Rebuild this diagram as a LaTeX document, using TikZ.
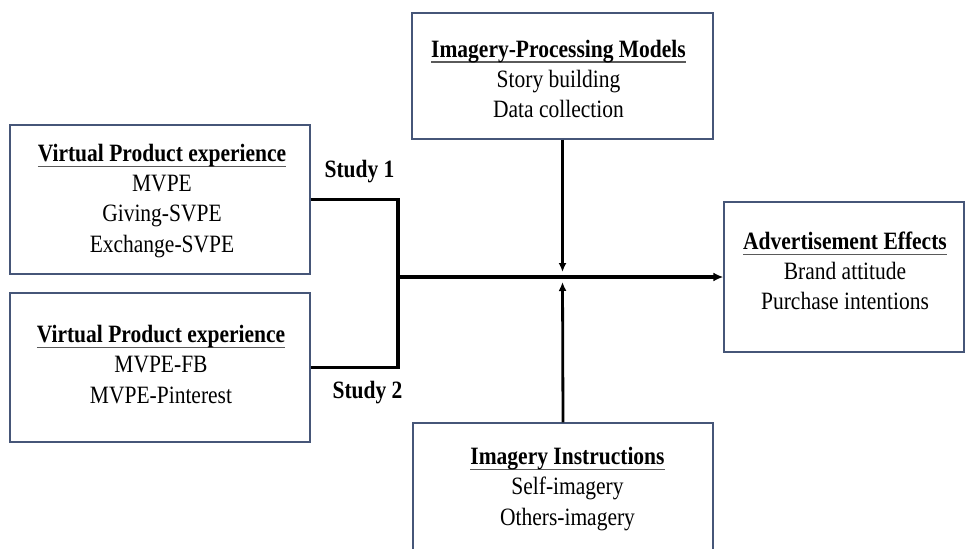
\documentclass[tikz,border=0pt]{standalone}
\usepackage{fontspec}
\setmainfont{Liberation Serif}
\usetikzlibrary{arrows.meta}
\definecolor{boxcol}{RGB}{70,86,120}
\definecolor{ulcol}{RGB}{90,90,90}
\newcommand\ttl[1]{\setbox0\hbox{\bfseries #1}\rlap{\color{ulcol}\rule[-4.6pt]{\wd0}{1.2pt}}\box0}
\tikzset{
  box/.style={draw=boxcol, line width=1.3pt, rectangle, inner sep=0pt},
  txt/.style={align=center, inner sep=0pt, yscale=1.16, transform shape, font=\fontsize{21.5}{25.9}\selectfont},
  lbl/.style={inner sep=0pt, anchor=base, yscale=1.16, transform shape, font=\fontsize{21.5}{26}\selectfont\bfseries},
  conn/.style={line width=3.2pt, line join=miter},
  arr/.style={line width=2.8pt, -{Latex[length=9pt,width=8pt]}},
}
\begin{document}
\begin{tikzpicture}[x=1pt,y=-1pt]
\clip (0,0) rectangle (965,548);
\useasboundingbox (0,0) rectangle (965,548);
% boxes
\node[box, minimum width=300pt, minimum height=149pt] (A) at (160,199.5) {};
\node[box, minimum width=300pt, minimum height=149pt] (B) at (160,367.5) {};
\node[box, minimum width=301pt, minimum height=126pt] (C) at (562.5,76) {};
\node[box, minimum width=240pt, minimum height=150pt] (D) at (844,277) {};
\node[box, minimum width=300pt, minimum height=150pt] (E) at (563,498) {};
% texts
\node[txt] (At) at (162,201) {\ttl{Virtual Product experience}\\MVPE\\Giving-SVPE\\Exchange-SVPE};
\node[txt] (Bt) at (161,364.5) {\ttl{Virtual Product experience}\\MVPE-FB\\MVPE-Pinterest};
\node[txt] (Ct) at (558.5,79) {\ttl{Imagery-Processing Models}\\Story building\\Data collection};
\node[txt] (Dt) at (845,271) {\ttl{Advertisement Effects}\\Brand attitude\\Purchase intentions};
\node[txt] (Et) at (567.5,489) {\ttl{Imagery Instructions}\\Self-imagery\\Others-imagery};
% study labels
\node[lbl] (S1) at (359.5,177) {Study 1};
\node[lbl] (S2) at (367.5,398) {Study 2};
% connectors
\coordinate (J) at (398,277);
\coordinate (Mt) at (562.5,272);
\coordinate (Mb) at (562.5,282);
\draw[conn] (A.east) -| (J);
\draw[conn] (B.east) -| (J);
\draw[conn, -{Latex[length=10pt,width=9pt]}] (J) -- (D.west);
\draw[arr] (C.south) -- (Mt);
\draw[arr] (E.north) -- (Mb);
\end{tikzpicture}
\end{document}
